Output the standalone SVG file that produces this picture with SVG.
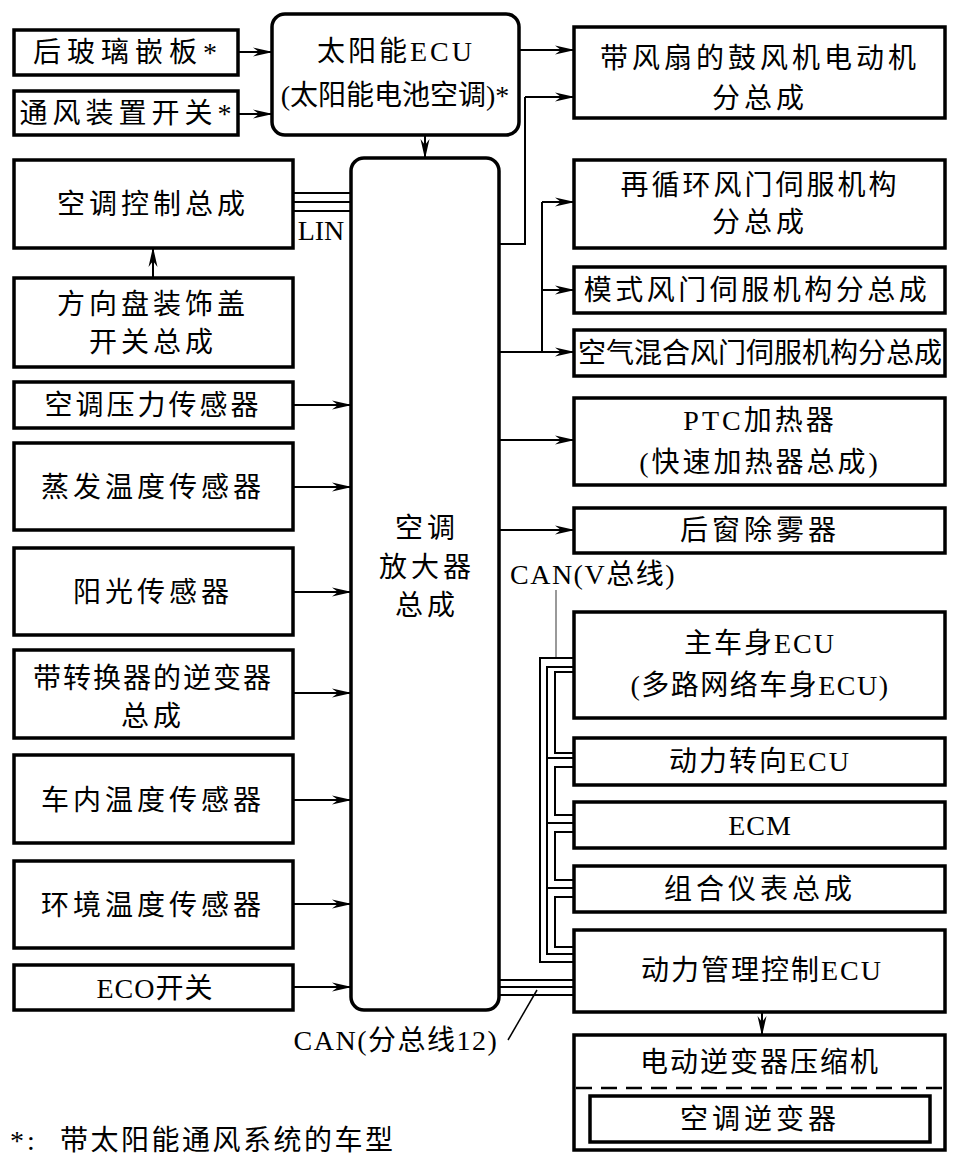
<svg xmlns="http://www.w3.org/2000/svg" width="979" height="1171" viewBox="0 0 979 1171">
<defs>
<marker id="ah" markerWidth="20" markerHeight="10" refX="19" refY="5" orient="auto" markerUnits="userSpaceOnUse">
<path d="M0,0.5 L20,5 L0,9.5 L6,5 z" fill="#000"/>
</marker>
</defs>
<style>
.b{fill:#fff;stroke:#000;stroke-width:3.5}
.t{font-family:"Liberation Serif","Noto Sans CJK SC",serif;font-size:28px;fill:#000;text-anchor:middle;dominant-baseline:central;letter-spacing:4px}
.l{fill:none;stroke:#000;stroke-width:2}
.a{fill:none;stroke:#000;stroke-width:2;marker-end:url(#ah)}
.w{fill:none;stroke:#000;stroke-width:2}
</style>
<rect width="979" height="1171" fill="#fff"/>

<g id="connectors">
<path class="a" d="M238,52 H272"/>
<path class="a" d="M238,114 H272"/>
<path class="a" d="M425,135 V158"/>
<path class="a" d="M519,50 H574"/>
<path class="l" d="M499,244 H525 V97"/>
<path class="a" d="M525,97 H574"/>
<path class="l" d="M499,352 H542"/>
<path class="l" d="M542,352 V202"/>
<path class="a" d="M542,202 H574"/>
<path class="a" d="M542,290 H574"/>
<path class="a" d="M542,352 H574"/>
<path class="a" d="M499,440 H574"/>
<path class="a" d="M499,530 H574"/>
<path class="w" d="M293,193 H351 M293,202 H351 M293,211 H351"/>
<path class="a" d="M153,278 V248"/>
<path class="a" d="M293,405 H351"/>
<path class="a" d="M293,487 H351"/>
<path class="a" d="M293,592 H351"/>
<path class="a" d="M293,693 H351"/>
<path class="a" d="M293,800 H351"/>
<path class="a" d="M293,904 H351"/>
<path class="a" d="M293,987 H351"/>
<path d="M556,590 V658" fill="none" stroke="#555" stroke-width="1.2"/>
<path class="w" d="M574,658 H540 V962 H574"/>
<path class="w" d="M574,667 H547 V954 H574"/>
<path class="w" d="M547,758 H574 M547,823 H574 M547,888 H574"/>
<path class="w" d="M574,672 H555 V753 H574"/>
<path class="w" d="M574,767 H555 V815 H574"/>
<path class="w" d="M574,832 H555 V880 H574"/>
<path class="w" d="M574,897 H555 V947 H574"/>
<path class="w" d="M499,980 H574 M499,987 H574 M499,995 H574"/>
<path d="M537,990 L508,1040" fill="none" stroke="#000" stroke-width="1.5"/>
<path class="a" d="M762,1012 V1035"/>
</g>

<g id="n_rear_glass"><rect class="b" x="14" y="30" width="224" height="45"/><text class="t" x="128" y="52" style="letter-spacing:6px">后玻璃嵌板*</text></g>
<g id="n_vent_switch"><rect class="b" x="14" y="91" width="224" height="44"/><text class="t" x="128" y="113" style="letter-spacing:5px">通风装置开关*</text></g>
<g id="n_solar_ecu"><rect class="b" x="272" y="14" width="247" height="121" rx="13"/><text class="t" x="396" y="51" style="letter-spacing:3px">太阳能ECU</text><text class="t" x="395" y="95" style="letter-spacing:0">(太阳能电池空调)*</text></g>
<g id="n_blower"><rect class="b" x="574" y="27" width="371" height="91"/><text class="t" x="760" y="58">带风扇的鼓风机电动机</text><text class="t" x="760" y="98">分总成</text></g>
<g id="n_ac_control"><rect class="b" x="14" y="160" width="279" height="88"/><text class="t" x="153" y="204">空调控制总成</text></g>
<text class="t" x="321" y="230" style="letter-spacing:0">LIN</text>
<g id="n_steering"><rect class="b" x="14" y="278" width="279" height="89"/><text class="t" x="153" y="304">方向盘装饰盖</text><text class="t" x="153" y="342">开关总成</text></g>
<g id="n_pressure"><rect class="b" x="14" y="382" width="279" height="46"/><text class="t" x="153" y="405" style="letter-spacing:3px">空调压力传感器</text></g>
<g id="n_evap"><rect class="b" x="14" y="443" width="279" height="87"/><text class="t" x="153" y="487">蒸发温度传感器</text></g>
<g id="n_sun"><rect class="b" x="14" y="548" width="279" height="87"/><text class="t" x="153" y="592">阳光传感器</text></g>
<g id="n_inverter_conv"><rect class="b" x="14" y="650" width="279" height="88"/><text class="t" x="153" y="678" style="letter-spacing:2px">带转换器的逆变器</text><text class="t" x="153" y="716">总成</text></g>
<g id="n_cabin_temp"><rect class="b" x="14" y="755" width="279" height="88"/><text class="t" x="153" y="800">车内温度传感器</text></g>
<g id="n_ambient"><rect class="b" x="14" y="861" width="279" height="87"/><text class="t" x="153" y="905">环境温度传感器</text></g>
<g id="n_eco"><rect class="b" x="14" y="965" width="279" height="45"/><text class="t" x="155" y="988" style="letter-spacing:1px">ECO开关</text></g>
<g id="n_amplifier"><rect class="b" x="351" y="158" width="148" height="852" rx="13"/><text class="t" x="427" y="528">空调</text><text class="t" x="427" y="567">放大器</text><text class="t" x="427" y="605">总成</text></g>
<g id="n_recirc"><rect class="b" x="574" y="160" width="371" height="88"/><text class="t" x="760" y="185" style="letter-spacing:3px">再循环风门伺服机构</text><text class="t" x="760" y="222">分总成</text></g>
<g id="n_mode"><rect class="b" x="574" y="267" width="371" height="46"/><text class="t" x="757" y="290" style="letter-spacing:3.5px">模式风门伺服机构分总成</text></g>
<g id="n_airmix"><rect class="b" x="574" y="330" width="371" height="46"/><text class="t" x="760" y="353" style="letter-spacing:0">空气混合风门伺服机构分总成</text></g>
<g id="n_ptc"><rect class="b" x="574" y="398" width="371" height="87"/><text class="t" x="760" y="420" style="letter-spacing:3px">PTC加热器</text><text class="t" x="760" y="462" style="letter-spacing:3px">(快速加热器总成)</text></g>
<g id="n_defog"><rect class="b" x="574" y="508" width="371" height="45"/><text class="t" x="760" y="530">后窗除雾器</text></g>
<text class="t" x="593" y="574" style="letter-spacing:1.5px">CAN(V总线)</text>
<g id="n_body_ecu"><rect class="b" x="574" y="612" width="371" height="106"/><text class="t" x="760" y="643" style="letter-spacing:2px">主车身ECU</text><text class="t" x="760" y="685" style="letter-spacing:1.5px">(多路网络车身ECU)</text></g>
<g id="n_eps"><rect class="b" x="574" y="738" width="371" height="47"/><text class="t" x="760" y="761" style="letter-spacing:2px">动力转向ECU</text></g>
<g id="n_ecm"><rect class="b" x="574" y="802" width="371" height="46"/><text class="t" x="760" y="825" style="letter-spacing:1px">ECM</text></g>
<g id="n_meter"><rect class="b" x="574" y="866" width="371" height="46"/><text class="t" x="760" y="889">组合仪表总成</text></g>
<g id="n_power_mgmt"><rect class="b" x="574" y="930" width="371" height="82"/><text class="t" x="762" y="970" style="letter-spacing:2px">动力管理控制ECU</text></g>
<g id="n_compressor"><rect class="b" x="574" y="1035" width="371" height="115"/><text class="t" x="760" y="1062" style="letter-spacing:2px">电动逆变器压缩机</text>
<line x1="576" y1="1088" x2="943" y2="1088" stroke="#000" stroke-width="2.5" stroke-dasharray="16,9"/>
<rect class="b" x="590" y="1096" width="340" height="46"/><text class="t" x="760" y="1119">空调逆变器</text></g>
<text class="t" x="396" y="1040" style="letter-spacing:1.5px">CAN(分总线12)</text>
<text class="t" x="10" y="1140" style="text-anchor:start;letter-spacing:3px">*:</text>
<text class="t" x="60" y="1140" style="text-anchor:start;letter-spacing:2.5px">带太阳能通风系统的车型</text>
</svg>
